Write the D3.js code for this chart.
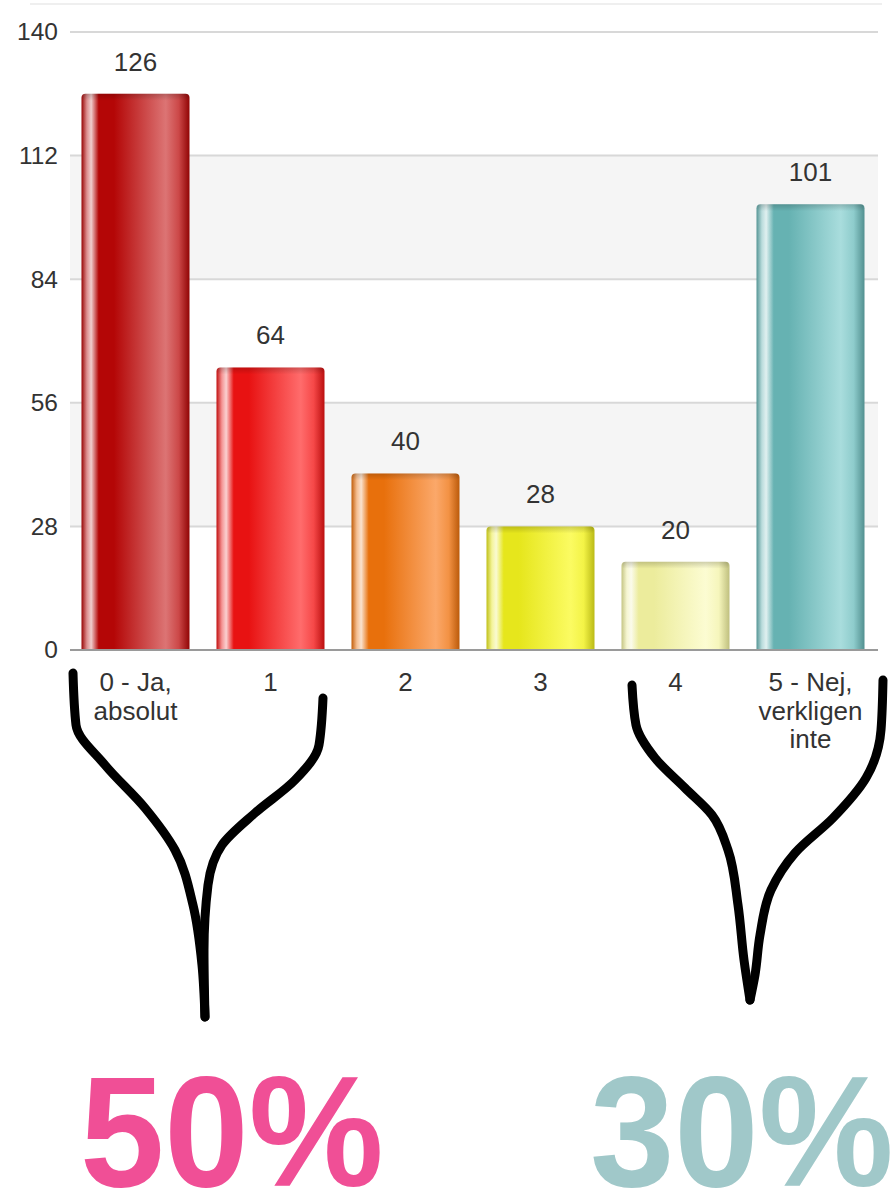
<!DOCTYPE html>
<html>
<head>
<meta charset="utf-8">
<script src="https://cdn.jsdelivr.net/npm/d3@7"></script>
<style>
  html, body { margin: 0; padding: 0; background: #fff; }
  svg { display: block; font-family: "Liberation Sans", Arial, sans-serif; }
</style>
</head>
<body>
<svg id="chart" width="890" height="1192"></svg>
<script>
// data
const categories = ['0 - Ja,|absolut', '1', '2', '3', '4', '5 - Nej,|verkligen|inte'];
const counts = [126, 64, 40, 28, 20, 101];
const yTicks = [0, 28, 56, 84, 112, 140];
const shares = ['50%', '30%'];

// bar colours (base tone, light end)
const baseColors = ['#b40606', '#e81212', '#e8700c', '#e6e61c', '#ecec9c', '#66b2b2'];
const lightColors = ['#dc7474', '#ff6c6c', '#fba86a', '#fbfb62', '#fcfcd2', '#a9dddd'];

const svg = d3.select('#chart');
const width = 890;
const margin = { top: 32, right: 12, bottom: 542, left: 68 };
const plotBottom = 650;

const x = d3.scaleBand()
  .domain(categories)
  .range([margin.left, width - margin.right])
  .paddingInner(0.2)
  .paddingOuter(0.1);

const y = d3.scaleLinear()
  .domain([0, 140])
  .range([plotBottom, margin.top]);

// faint frame line on top
svg.append('line')
  .attr('x1', 30).attr('x2', 882).attr('y1', 4).attr('y2', 4)
  .attr('stroke', '#efefef').attr('stroke-width', 2);

// alternating bands
const bands = svg.append('g');
for (let i = 0; i < yTicks.length - 1; i++) {
  if (i % 2 === 1) {
    bands.append('rect')
      .attr('x', 70).attr('width', 808)
      .attr('y', y(yTicks[i + 1])).attr('height', y(yTicks[i]) - y(yTicks[i + 1]))
      .attr('fill', '#f5f5f5');
  }
}

// grid
svg.append('g')
  .selectAll('line')
  .data(yTicks.filter(d => d > 0))
  .join('line')
  .attr('x1', 70).attr('x2', 878)
  .attr('y1', d => y(d)).attr('y2', d => y(d))
  .attr('stroke', '#d8d8d8').attr('stroke-width', 2);

// y axis labels
const yAxis = svg.append('g')
  .attr('transform', 'translate(70,0)')
  .call(d3.axisLeft(y).tickValues(yTicks).tickSize(0).tickPadding(12));
yAxis.select('.domain').remove();
yAxis.selectAll('text')
  .attr('font-size', 24.5)
  .attr('fill', '#333')
  .attr('font-family', '"Liberation Sans", Arial, sans-serif');

// gradients
const defs = svg.append('defs');
const mix = (a, b, t) => d3.color(d3.interpolateRgb(a, b)(t));
categories.forEach((c, i) => {
  const base = d3.color(baseColors[i]);
  const light = d3.color(lightColors[i]);
  const g = defs.append('linearGradient')
    .attr('id', 'grad' + i)
    .attr('x1', 0).attr('x2', 1).attr('y1', 0).attr('y2', 0);
  const stops = [
    [0, base.darker(0.5)],
    [0.05, mix(base, '#fff', 0.55)],
    [0.09, mix(base, '#fff', 0.8)],
    [0.16, base],
    [0.3, base],
    [0.78, light],
    [0.9, mix(light, base, 0.4)],
    [1, base.darker(0.6)]
  ];
  stops.forEach(s => g.append('stop')
    .attr('offset', s[0]).attr('stop-color', s[1].formatHex()));
});
const topShade = defs.append('linearGradient')
  .attr('id', 'topShade').attr('x1', 0).attr('x2', 0).attr('y1', 0).attr('y2', 1);
topShade.append('stop').attr('offset', 0).attr('stop-color', '#000').attr('stop-opacity', 0.18);
topShade.append('stop').attr('offset', 1).attr('stop-color', '#000').attr('stop-opacity', 0);

const rows = categories.map((c, i) => ({ cat: c, value: counts[i], i }));

function barPath(d) {
  const x0 = x(d.cat), w = x.bandwidth(), y0 = y(d.value), y1 = y(0), r = 4;
  return `M${x0},${y1}V${y0 + r}Q${x0},${y0} ${x0 + r},${y0}H${x0 + w - r}Q${x0 + w},${y0} ${x0 + w},${y0 + r}V${y1}Z`;
}

const barsG = svg.append('g');
barsG.selectAll('path.bar')
  .data(rows)
  .join('path')
  .attr('class', 'bar')
  .attr('d', barPath)
  .attr('fill', d => `url(#grad${d.i})`);

barsG.selectAll('rect.shade')
  .data(rows)
  .join('rect')
  .attr('class', 'shade')
  .attr('x', d => x(d.cat) + 1)
  .attr('width', x.bandwidth() - 2)
  .attr('y', d => y(d.value))
  .attr('height', 7)
  .attr('rx', 3)
  .attr('fill', 'url(#topShade)');

// baseline
svg.append('line')
  .attr('x1', 70).attr('x2', 878)
  .attr('y1', y(0)).attr('y2', y(0))
  .attr('stroke', '#9a9a9a').attr('stroke-width', 2);

// value labels
svg.append('g')
  .selectAll('text')
  .data(rows)
  .join('text')
  .attr('x', d => x(d.cat) + x.bandwidth() / 2)
  .attr('y', d => y(d.value) - 23)
  .attr('text-anchor', 'middle')
  .attr('font-size', 26)
  .attr('fill', '#333')
  .text(d => d.value);

// category labels
const catG = svg.append('g')
  .selectAll('text')
  .data(rows)
  .join('text')
  .attr('x', d => x(d.cat) + x.bandwidth() / 2)
  .attr('y', 691)
  .attr('text-anchor', 'middle')
  .attr('font-size', 26)
  .attr('fill', '#333');
catG.selectAll('tspan')
  .data(d => d.cat.split('|').map(t => ({ t, cx: x(d.cat) + x.bandwidth() / 2 })))
  .join('tspan')
  .attr('x', d => d.cx)
  .attr('dy', (d, j) => j === 0 ? 0 : 28.5)
  .text(d => d.t);

// hand drawn braces, each arm drawn from its top down to the tip
const braceArms = [
  [[73, 673], [76, 725], [105, 765], [145, 808], [175, 850], [193, 905], [202, 965], [205, 1017]],
  [[323, 698], [319, 745], [295, 780], [255, 813], [222, 845], [208, 885], [204, 950], [205, 1017]],
  [[632, 685], [636, 725], [655, 758], [685, 788], [712, 815], [728, 850], [738, 905], [744, 960], [750, 1000]],
  [[883, 680], [881, 730], [866, 778], [833, 818], [795, 853], [771, 890], [760, 935], [755, 975], [750, 1000]]
];
svg.append('g')
  .selectAll('path')
  .data(braceArms)
  .join('path')
  .attr('d', d3.line().curve(d3.curveMonotoneY))
  .attr('fill', 'none')
  .attr('stroke', '#000')
  .attr('stroke-width', 9)
  .attr('stroke-linecap', 'round')
  .attr('stroke-linejoin', 'round');

// big shares
const shareColors = ['#f04f96', '#a0c8c9'];
const shareX = [80, 590];
svg.append('g')
  .selectAll('text')
  .data(shares)
  .join('text')
  .attr('transform', (d, i) => `translate(${shareX[i]},1186) scale(0.96,1)`)
  .attr('font-size', 158)
  .attr('font-weight', 'bold')
  .attr('fill', (d, i) => shareColors[i])
  .text(d => d);
</script>
</body>
</html>
